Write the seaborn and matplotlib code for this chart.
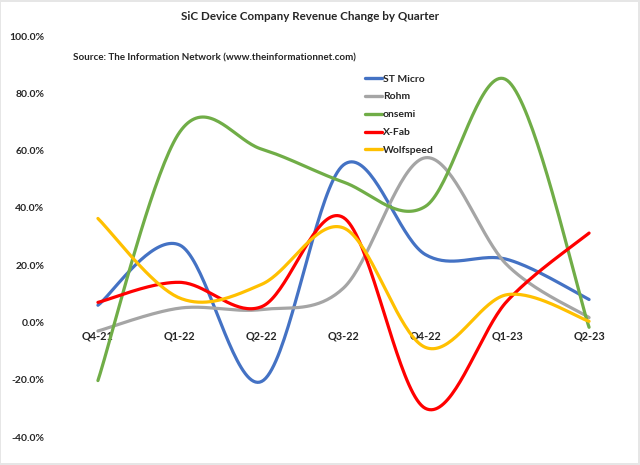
import numpy as np
import pandas as pd
import matplotlib
matplotlib.use("Agg")
import matplotlib.pyplot as plt
from matplotlib.patches import Rectangle
from matplotlib.lines import Line2D
import seaborn as sns

quarters = ["Q4-21", "Q1-22", "Q2-22", "Q3-22", "Q4-22", "Q1-23", "Q2-23"]
st_micro = [0.060, 0.270, -0.206, 0.550, 0.237, 0.220, 0.080]
rohm = [-0.030, 0.050, 0.045, 0.120, 0.575, 0.200, 0.017]
onsemi = [-0.203, 0.665, 0.605, 0.490, 0.405, 0.845, -0.017]
xfab = [0.070, 0.140, 0.055, 0.366, -0.300, 0.075, 0.312]
wolfspeed = [0.363, 0.085, 0.133, 0.330, -0.087, 0.097, 0.004]

series_names = ["ST Micro", "Rohm", "onsemi", "X-Fab", "Wolfspeed"]
series_values = [st_micro, rohm, onsemi, xfab, wolfspeed]
colors = ["#4472C4", "#A5A5A5", "#70AD47", "#FF0000", "#FFC000"]


def smooth(xs, ys, n=40):
    # Excel-like smoothed line: cubic Bezier through points (Catmull-Rom tangents)
    xs = np.asarray(xs, float)
    ys = np.asarray(ys, float)
    P = np.column_stack([xs, ys])
    out = []
    m = len(P)
    for i in range(m - 1):
        p0 = P[i - 1] if i > 0 else P[i]
        p1 = P[i]
        p2 = P[i + 1]
        p3 = P[i + 2] if i + 2 < m else P[i + 1]
        c1 = p1 + (p2 - p0) / 6.0
        c2 = p2 - (p3 - p1) / 6.0
        t = np.linspace(0, 1, n, endpoint=(i == m - 2))[:, None]
        b = ((1 - t) ** 3) * p1 + 3 * ((1 - t) ** 2) * t * c1 + 3 * (1 - t) * t ** 2 * c2 + t ** 3 * p2
        out.append(b)
    return np.vstack(out)


rows = []
for name, vals in zip(series_names, series_values):
    curve = smooth(np.arange(len(quarters)), vals)
    for k, (x, y) in enumerate(curve):
        rows.append({"x": x, "y": y, "series": name, "order": k})
df = pd.DataFrame(rows)

sns.set_theme(style="white")
plt.rcParams["font.family"] = ["Lato", "DejaVu Sans"]

fig = plt.figure(figsize=(6.4, 4.65), dpi=100)
fig.patch.set_facecolor("#e6e6e6")
fig.add_artist(Rectangle((1 / 640, 2 / 465), 637 / 640, 461 / 465, transform=fig.transFigure,
                         facecolor="white", edgecolor="none", zorder=-1))
ax = fig.add_axes([57 / 640, 28 / 465, 573 / 640, 401 / 465])
ax.set_facecolor("none")

sns.lineplot(data=df, x="x", y="y", hue="series", hue_order=series_names,
             palette=colors, sort=False, units="series", estimator=None,
             linewidth=2.3, ax=ax, legend=False)

ax.spines["bottom"].set_position(("data", 0))
for s in ax.spines.values():
    s.set_visible(False)

ax.set_xlim(-0.5, 6.5)
ax.set_ylim(-0.4, 1.0)
yt = np.arange(-0.4, 1.01, 0.2)
ax.set_yticks(yt)
ax.set_yticklabels([f"{v * 100:.1f}%" for v in yt], fontsize=7.5, fontweight="bold")
ax.set_xticks(range(len(quarters)))
ax.set_xticklabels(quarters, fontsize=7.8, fontweight="bold")
ax.tick_params(axis="both", length=0)
ax.tick_params(axis="x", pad=6)
ax.tick_params(axis="y", pad=9)
ax.set_xlabel("")
ax.set_ylabel("")

fig.text(310 / 640, 1 - 17 / 465, "SiC Device Company Revenue Change by Quarter",
         ha="center", va="center", fontsize=8.4, fontweight="bold")
fig.text(73 / 640, 1 - 58 / 465, "Source: The Information Network (www.theinformationnet.com)",
         ha="left", va="center", fontsize=7.1, fontweight="bold")

handles = [Line2D([0], [0], color=c, lw=2.4) for c in colors]
leg = fig.legend(handles, series_names, loc="upper left",
                 bbox_to_anchor=(356 / 640, 1 - 65 / 465), frameon=False,
                 prop={"size": 7.5, "weight": "bold"}, handlelength=1.6,
                 handletextpad=0.1, labelspacing=0.82)

fig.savefig("out.png", dpi=100)
